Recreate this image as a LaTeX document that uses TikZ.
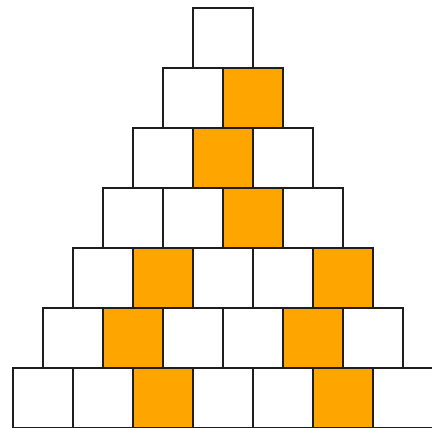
\documentclass[tikz,border=0pt]{standalone}
\usepackage{tikz}
\definecolor{pyorange}{RGB}{255,165,0}
\definecolor{pyline}{RGB}{30,30,30}

\begin{document}
\begin{tikzpicture}
    \useasboundingbox (-0.2167,0.015) rectangle (6.9833,7.1317);
    \clip (-0.2167,0.015) rectangle (6.9833,7.1317);
    \tikzset{cell/.style={draw=pyline, line width=0.8pt, fill=white}}
    % all cells of the pyramid
    \foreach \r in {1,...,7}
      \foreach \k in {1,...,\r}
        \draw[cell] ({(7-\r)*0.5+\k-1},{7-\r}) rectangle ++(1,1);
    % coloured cells (row/position)
    \foreach \r/\k in {2/2, 3/2, 4/3, 5/2, 5/5, 6/2, 6/5, 7/3, 7/6}
      \draw[cell, fill=pyorange] ({(7-\r)*0.5+\k-1},{7-\r}) rectangle ++(1,1);
  \end{tikzpicture}
\end{document}
